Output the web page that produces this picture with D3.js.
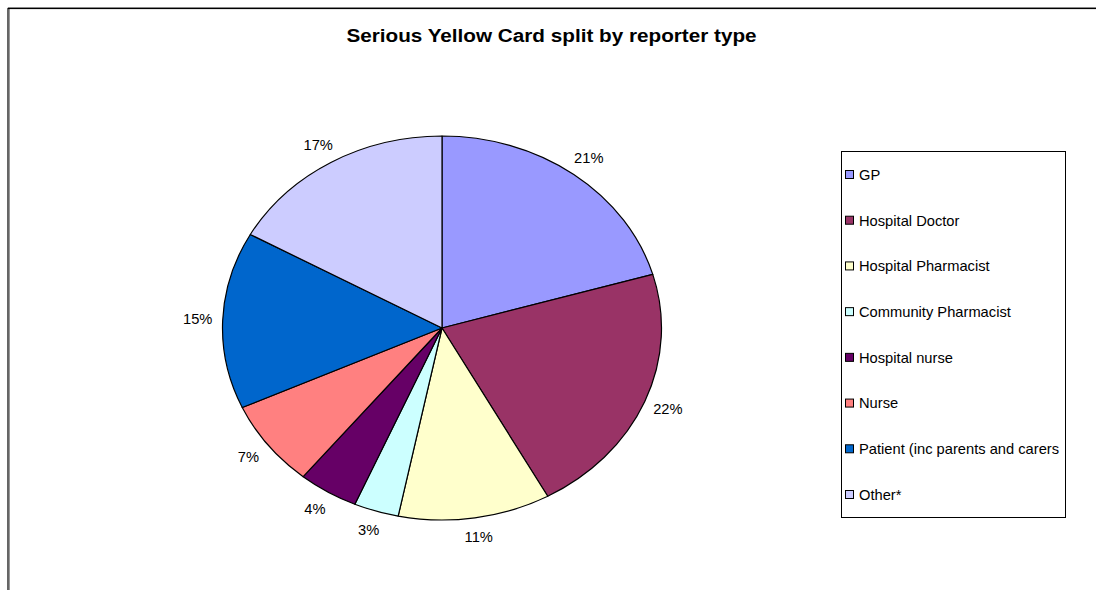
<!DOCTYPE html>
<html>
<head>
<meta charset="utf-8">
<script src="https://cdn.jsdelivr.net/npm/d3@7/dist/d3.min.js"></script>
<style>
  html, body { margin: 0; padding: 0; background: #fff; }
  svg { display: block; font-family: "Liberation Sans", Arial, sans-serif; }
</style>
</head>
<body>
<svg id="chart" width="1096" height="590"></svg>
<script>
const categories = ["GP", "Hospital Doctor", "Hospital Pharmacist", "Community Pharmacist",
  "Hospital nurse", "Nurse", "Patient (inc parents and carers", "Other*"];
const values = [20.5, 21.5, 11.2, 3.3, 4.4, 7.3, 14.9, 16.9];
const colors = ["#9999FF", "#993366", "#FFFFCC", "#CCFFFF", "#660066", "#FF8080", "#0066CC", "#CCCCFF"];
const title = "Serious Yellow Card split by reporter type";

const W = 1096, H = 590;
const svg = d3.select("#chart");

// outer chart frame (extends beyond the viewport)
svg.append("line").attr("x1", 8).attr("x2", W).attr("y1", 7.5).attr("y2", 7.5).attr("stroke", "#999").attr("stroke-width", 1);
svg.append("line").attr("x1", 9.5).attr("x2", 9.5).attr("y1", 9).attr("y2", H).attr("stroke", "#999").attr("stroke-width", 1);
svg.append("rect").attr("x", 8).attr("y", 8.5).attr("width", W + 20).attr("height", H + 20)
  .attr("fill", "none").attr("stroke", "#000").attr("stroke-width", 1.2);

// title (horizontally stretched like the reference)
const tx = 551.5, ty = 42;
svg.append("text").attr("transform", `translate(${tx},${ty}) scale(1.09,1)`)
  .attr("text-anchor", "middle")
  .attr("font-weight", "bold").attr("font-size", 19).attr("fill", "#000").text(title);

// pie
const cx = 442, cy = 328, rx = 219.5, ry = 192;
const total = d3.sum(values);
const pie = d3.pie().sort(null).value(d => d)(values);
const arc = d3.arc().innerRadius(0).outerRadius(ry);

const g = svg.append("g").attr("transform", `translate(${cx},${cy}) scale(${rx / ry},1)`);
g.selectAll("path").data(pie).join("path")
  .attr("d", arc)
  .attr("fill", (d, i) => colors[i])
  .attr("stroke", "#000")
  .attr("stroke-width", 1.2)
  .attr("stroke-linejoin", "round")
  .attr("vector-effect", "non-scaling-stroke");

// labels
const ox = 25, oy = 20;
svg.append("g").selectAll("text").data(pie).join("text")
  .attr("transform", d => {
    const a = (d.startAngle + d.endAngle) / 2;
    const x = cx + Math.sin(a) * (rx + ox);
    const y = cy - Math.cos(a) * (ry + oy);
    return `translate(${x},${y}) scale(1.05,1)`;
  })
  .attr("text-anchor", "middle")
  .attr("dominant-baseline", "central")
  .attr("font-size", 14)
  .attr("fill", "#000")
  .text(d => Math.round(d.data / total * 100) + "%");

// legend
const lx = 841.5, ly = 151.5, lw = 224, lh = 366;
svg.append("rect").attr("x", lx).attr("y", ly).attr("width", lw).attr("height", lh)
  .attr("fill", "#fff").attr("stroke", "#000").attr("stroke-width", 1);
const clip = svg.append("clipPath").attr("id", "legclip");
clip.append("rect").attr("x", lx).attr("y", ly).attr("width", lw - 1).attr("height", lh);

const yLeg = d3.scalePoint().domain(categories).range([174, 494]);
const leg = svg.append("g").attr("clip-path", "url(#legclip)");
const items = leg.selectAll("g").data(categories).join("g")
  .attr("transform", d => `translate(0,${yLeg(d)})`);
items.append("rect").attr("x", 845.5).attr("y", -3.5).attr("width", 8).attr("height", 8)
  .attr("fill", (d, i) => colors[i]).attr("stroke", "#000").attr("stroke-width", 1);
items.append("text").attr("transform", "translate(859,1) scale(1.05,1)")
  .attr("dominant-baseline", "central")
  .attr("font-size", 14).attr("fill", "#000").text(d => d);
</script>
</body>
</html>
